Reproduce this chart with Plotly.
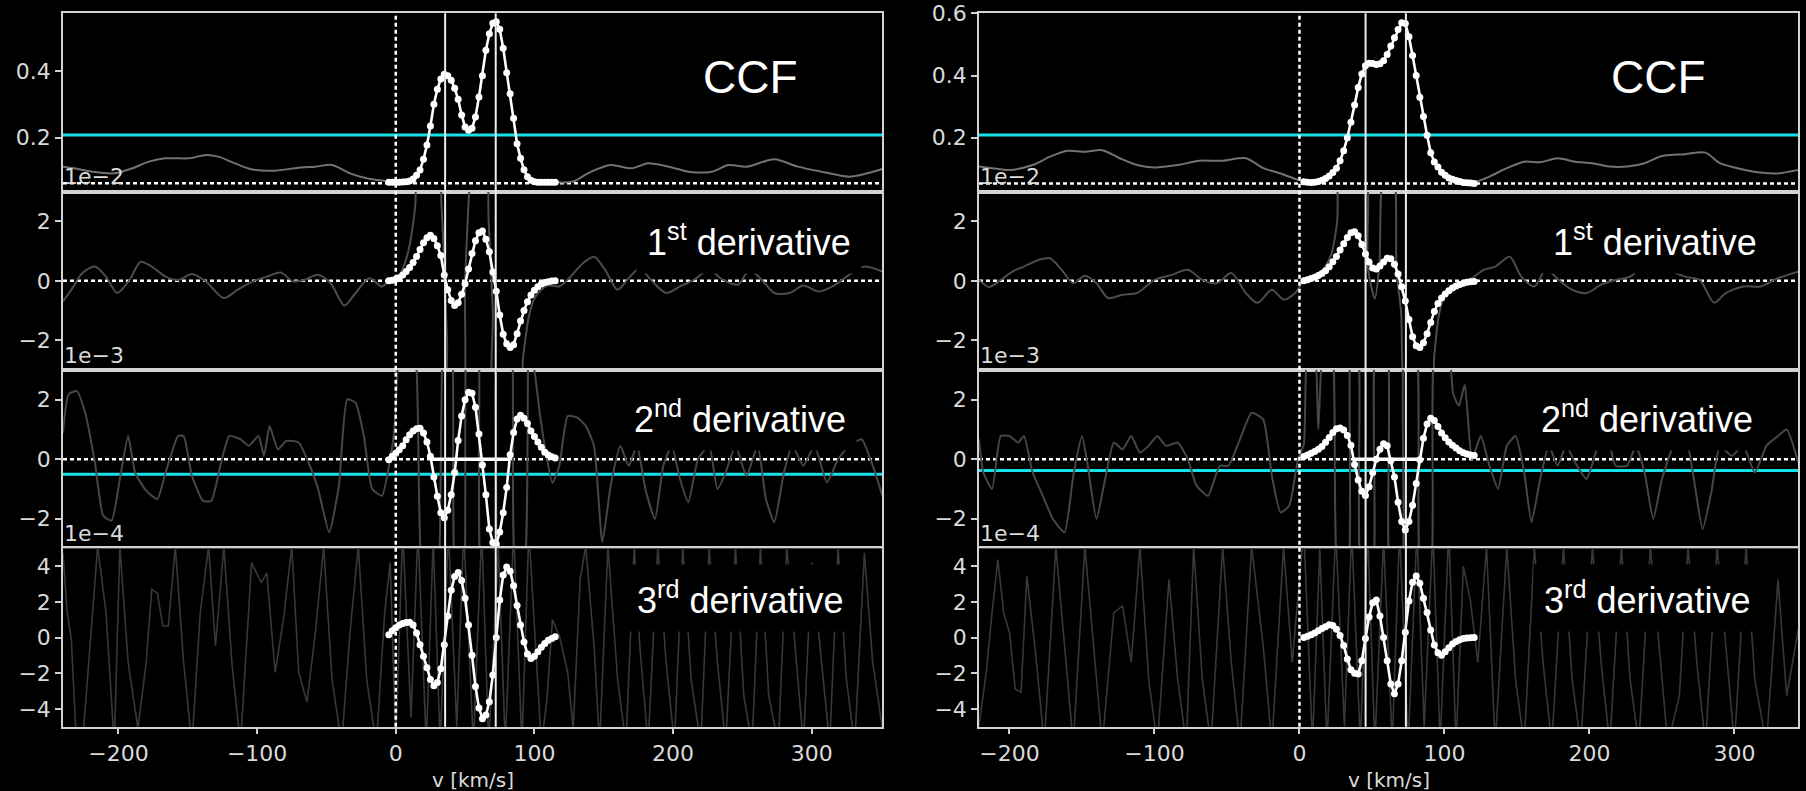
import numpy as np
import plotly.graph_objects as go

W, H = 1806, 791

# ---------------- sampling grids of the fitted velocity windows ----------------
v_win_a = np.arange(-5.0, 115.01, 2.5)
v_win_b = np.arange(3.0, 120.51, 2.5)

# ---------------- profile A (left column) ----------------
ccf_a = [0.066, 0.066, 0.066, 0.066, 0.067, 0.068, 0.070, 0.076, 0.087, 0.103,
         0.135, 0.178, 0.235, 0.300, 0.345, 0.376, 0.390, 0.386, 0.372, 0.348,
         0.315, 0.268, 0.232, 0.222, 0.228, 0.262, 0.322, 0.386, 0.462, 0.512,
         0.543, 0.548, 0.525, 0.468, 0.395, 0.332, 0.258, 0.182, 0.138, 0.104,
         0.083, 0.072, 0.068, 0.066, 0.066, 0.066, 0.066, 0.066, 0.066]
d1_a = [0.00, 0.02, 0.05, 0.10, 0.20, 0.31, 0.45, 0.62, 0.82, 1.05,
        1.28, 1.45, 1.53, 1.42, 1.18, 0.85, 0.20, -0.30, -0.66, -0.83,
        -0.74, -0.45, -0.10, 0.40, 0.92, 1.35, 1.62, 1.68, 1.40, 0.98,
        0.30, -0.35, -1.15, -1.80, -2.12, -2.24, -2.15, -1.78, -1.35, -1.00,
        -0.70, -0.48, -0.32, -0.20, -0.11, -0.06, -0.03, -0.01, 0.00]
d2_a = [-0.02, 0.10, 0.20, 0.32, 0.45, 0.65, 0.82, 0.95, 1.02, 1.04,
        0.88, 0.58, 0.10, -0.60, -1.25, -1.80, -1.97, -1.72, -1.20, -0.45,
        0.63, 1.45, 2.00, 2.25, 2.22, 1.75, 0.85, -0.20, -1.20, -2.35,
        -2.80, -2.85, -2.45, -1.80, -0.95, 0.15, 0.90, 1.35, 1.48, 1.38,
        1.20, 0.95, 0.76, 0.58, 0.40, 0.23, 0.14, 0.08, 0.04]
d3_a = [0.15, 0.38, 0.55, 0.70, 0.78, 0.84, 0.85, 0.70, 0.25, -0.40,
        -1.05, -1.70, -2.35, -2.70, -2.52, -1.75, -0.40, 1.20, 2.65, 3.42,
        3.65, 3.20, 2.20, 0.70, -1.00, -2.75, -3.95, -4.55, -4.35, -3.60,
        -2.10, 0.00, 2.10, 3.50, 3.95, 3.72, 2.90, 1.80, 0.70, -0.25,
        -0.92, -1.18, -1.05, -0.80, -0.54, -0.33, -0.15, -0.05, 0.05]

# ---------------- profile B (right column) ----------------
ccf_b = [0.058, 0.057, 0.056, 0.057, 0.059, 0.063, 0.069, 0.077, 0.088, 0.102,
         0.126, 0.158, 0.200, 0.250, 0.305, 0.362, 0.405, 0.432, 0.440, 0.439,
         0.436, 0.438, 0.448, 0.468, 0.495, 0.522, 0.548, 0.570, 0.568, 0.525,
         0.465, 0.400, 0.330, 0.268, 0.208, 0.152, 0.122, 0.106, 0.089, 0.079,
         0.070, 0.066, 0.062, 0.059, 0.056, 0.055, 0.054, 0.053]
d1_b = [0.00, 0.04, 0.08, 0.12, 0.18, 0.25, 0.34, 0.47, 0.64, 0.82,
        1.04, 1.25, 1.46, 1.62, 1.65, 1.52, 1.22, 0.90, 0.63, 0.43,
        0.40, 0.50, 0.63, 0.76, 0.74, 0.56, 0.23, -0.20, -0.68, -1.30,
        -1.88, -2.18, -2.24, -2.08, -1.78, -1.40, -1.03, -0.76, -0.58, -0.44,
        -0.33, -0.24, -0.17, -0.12, -0.08, -0.05, -0.03, -0.02]
d2_b = [0.09, 0.14, 0.20, 0.26, 0.33, 0.43, 0.57, 0.73, 0.90, 1.02,
        1.05, 0.98, 0.80, 0.47, -0.18, -0.70, -1.08, -1.22, -0.93, -0.45,
        0.00, 0.33, 0.52, 0.45, -0.05, -0.60, -1.45, -2.10, -2.38, -2.10,
        -1.55, -0.82, -0.02, 0.70, 1.18, 1.38, 1.30, 1.10, 0.88, 0.72,
        0.58, 0.47, 0.38, 0.28, 0.22, 0.17, 0.14, 0.12]
d3_b = [0.00, 0.07, 0.15, 0.26, 0.38, 0.50, 0.60, 0.72, 0.68, 0.46,
        0.12, -0.45, -1.20, -1.80, -2.00, -2.05, -1.30, -0.05, 1.15, 1.95,
        2.10, 1.20, 0.00, -1.30, -2.60, -3.15, -2.60, -1.30, 0.30, 2.05,
        3.10, 3.45, 3.05, 2.20, 1.40, 0.42, -0.42, -0.85, -1.00, -0.80,
        -0.57, -0.36, -0.22, -0.12, -0.06, -0.03, -0.01, 0.00]

# ---------------- full-range curves (faint background) ----------------
raw_ccf_a_v = [-240, -232, -219, -203, -190, -178, -166, -149, -137, -128, -116, -104, -87, -70,
               -58, -46, -33, -21, -4, None, 116, 124, 129, 141, 155, 170, 182, 197, 211, 228,
               240, 253, 273, 290, 307, 327, 340, 351]
raw_ccf_a = [0.113, 0.108, 0.098, 0.093, 0.108, 0.128, 0.138, 0.138, 0.148, 0.143, 0.123, 0.105,
             0.101, 0.110, 0.113, 0.118, 0.093, 0.078, 0.068, None, 0.066, 0.066, 0.070, 0.098,
             0.118, 0.108, 0.123, 0.113, 0.098, 0.098, 0.118, 0.113, 0.135, 0.113, 0.098, 0.083,
             0.093, 0.106]
raw_d1_a_v = [-240, -234, -226, -217, -209, -201, -192, -184, -176, -166, -157, -147, -137, -124,
              -114, -103, -93, -83, -74, -66, -56, -47, -37, -29, -19, -10, -4,
              0, 5, 10, 14, 17, 30, 33, 35, 37, 39, 47, 50, 53, 56, 64, 67, 70, 72, 88, 92, 96,
              100, 105, 110,
              118, 126, 135, 143, 151, 160, 168, 176, 184, 195, 205, 215, 226, 236, 247, 255, 265,
              273, 284, 294, 305, 315, 327, 338, 351]
raw_d1_a = [-0.69, -0.30, 0.26, 0.48, 0.14, -0.41, 0.03, 0.64, 0.48, 0.14, 0.03, 0.23, -0.02, -0.58,
            -0.30, -0.02, 0.14, 0.28, -0.02, 0.03, 0.20, -0.08, -0.83, -0.41, 0.09, -0.19, 0.03,
            0.05, 0.4, 1.2, 2.5, 4.0, 4.0, 2.5, 0.5, -2.0, -4.0, -4.0, 0.0, 3.0, 4.5, 4.5, 2.0,
            -1.0, -4.0, -4.0, -2.5, -1.2, -0.6, -0.3, -0.15,
            -0.19, 0.14, 0.59, 0.81, 0.37, -0.30, 0.09, 0.42, 0.03, -0.41, -0.19, 0.03, 0.37, 0.03,
            -0.13, 0.37, -0.02, -0.41, -0.41, -0.16, -0.36, -0.19, 0.20, 0.48, 0.31]
raw_d2_a_v = [-240, -236, -230, -224, -217, -211, -205, -199, -193, -188, -180, -172, -166, -157,
              -153, -147, -139, -133, -126, -120, -112, -106, -99, -95, -91, -85, -79, -70, -62,
              -56, -48, -41, -35, -29, -23, -17, -10, -4,
              -1, 2, 6, 10, 15, 19, 27, 31, 34, 38, 41, 44, 48, 51, 57, 60, 63, 70, 73, 80, 84,
              87, 92, 96, 100, 104, 108, 113,
              118, 124, 131, 137, 143, 149, 155, 162, 168, 174, 180, 187, 193, 199, 205, 211, 218,
              226, 232, 238, 245, 253, 261, 267, 273, 280, 286, 294, 302, 311, 319, 327, 336, 344,
              351]
raw_d2_a = [0.89, 2.18, 2.29, 1.56, -0.11, -1.90, -2.07, -0.67, 0.78, -0.45, -1.06, -1.34, -0.45,
            0.78, 0.78, -0.56, -1.40, -1.40, -0.11, 0.78, 0.67, 0.45, 0.78, 0.11, 1.12, 0.33, 0.61,
            0.56, -0.22, -1.00, -2.46, -0.89, 2.01, 1.90, 0.78, -1.00, -1.23, 0.00,
            1.0, 3.5, 4.5, 4.5, 3.0, -4.0, -5.0, -4.0, 4.0, 5.0, 4.0, -5.0, -5.0, 4.0, 5.0, 4.0,
            -5.0, -5.0, 4.0, 5.0, 4.0, -4.0, -4.0, 4.0, 3.0, 1.5, 0.3, -0.8,
            -0.22, 1.45, 1.40, 1.12, 0.45, -2.79, -0.89, 0.45, -0.22, 0.45, -1.00, -2.01, -0.22,
            0.45, -0.67, -1.45, 0.00, 0.45, -1.00, -0.45, 0.45, -0.56, 0.45, -1.34, -2.12, -0.45,
            0.45, -0.22, 0.45, -0.78, 0.00, 0.45, 0.67, -0.22, -1.23]
raw_d3_a_v = [-240, -237, -234, -231, -226, -219, -215, -209, -203, -199, -193, -186, -180, -176,
              -172, -168, -164, -159, -153, -147, -141, -135, -130, -124, -118, -112, -104, -97,
              -93, -87, -81, -75, -70, -64, -58, -52, -46, -39, -33, -27, -21, -14, -8, -4,
              0, 5, 11, 16, 22, 27, 32, 38, 44, 49, 56, 62, 67, 74, 79, 85, 91, 96, 102,
              105, 109, 113,
              118, 124, 128, 133, 137, 143, 147, 153, 160, 166, 172, 176, 182, 189, 195, 201, 207,
              213, 220, 226, 232, 238, 245, 251, 257, 263, 269, 276, 282, 288, 294, 300, 307, 313,
              319, 325, 331, 338, 344, 351]
raw_d3_a = [4.75, 1.4, -0.1, -4.9, -6, 1.4, 5.1, 1.4, -6, 5.1, -1.4, -5.1, -1.4, 2.7, 2.5, 0.65,
            0.65, 5.1, -1.4, -6, 1.4, 5.1, -0.47, 5.1, -1.6, -6, 4.2, 3.07, 3.63, -1.96, 1.02, 5.1,
            -1.96, -3.63, 0.28, 5.1, -2.33, -6, 0.28, 5.1, -2.33, -6, 1.4, 4.2,
            -6, 6, -4.5, 6, -6, 5.5, -6, 6, -5, 6, -6, 6, -6, 5, -6, 6, -6, 6, -2.5,
            -6, -3.5, 1.0,
            0.09, -1.96, -5.1, 3.26, 5.1, -0.47, -6, 5.1, -2.33, -6, 5.1, -0.47, -6, 5.1, -1.4, -6,
            5.1, -2.33, -6, 5.1, -1.4, -6, 5.1, -3.26, -6, 5.1, -3.26, -6, 5.1, -0.47, -6, 4.2,
            -1.4, -6, 5.1, -2.33, -6, 4.75, -1.4, -5.1]

raw_ccf_b_v = [-221, -212, -200, -184, -172, -160, -148, -136, -124, -112, -100, -84, -69, -53,
               -37, -25, -13, -1, None, 119, 131, 143, 155, 166, 178, 190, 202, 214, 226, 238,
               250, 266, 280, 290, 302, 318, 330, 344]
raw_ccf_b = [0.107, 0.102, 0.096, 0.112, 0.139, 0.158, 0.155, 0.160, 0.134, 0.112, 0.104, 0.112,
             0.126, 0.126, 0.134, 0.102, 0.085, 0.064, None, 0.053, 0.075, 0.102, 0.123, 0.121,
             0.134, 0.123, 0.118, 0.107, 0.107, 0.118, 0.141, 0.147, 0.152, 0.118, 0.102, 0.088,
             0.085, 0.096]
raw_d1_b_v = [-221, -214, -206, -198, -190, -180, -172, -164, -156, -148, -140, -132, -122, -112,
              -100, -88, -77, -67, -57, -47, -37, -29, -19, -11, -3,
              3, 10, 16, 22, 26, 29, 44, 47, 50, 52, 55, 59, 64, 67, 70, 75, 90, 93, 96, 100, 110,
              119, 127, 135, 145, 153, 162, 170, 180, 188, 198, 208, 218, 228, 238, 246, 256, 266,
              276, 286, 294, 306, 318, 330, 344]
raw_d1_b = [0.03, -0.21, 0.03, 0.31, 0.48, 0.70, 0.76, 0.37, -0.08, 0.17, -0.08, -0.58, -0.47,
            -0.41, 0.03, 0.20, 0.37, 0.03, -0.08, 0.26, -0.41, -0.74, -0.30, -0.63, -0.41,
            0.0, 0.15, 0.37, 0.9, 2.0, 4.0, 4.0, 0.5, -0.3, -0.6, 0.5, 4.0, 4.0, 0.3, -1.0, -4.0,
            -4.0, -2.5, -1.2, -0.5, -0.1,
            0.09, 0.37, 0.48, 0.81, 0.14, -0.19, 0.37, -0.02, -0.30, -0.41, -0.13, 0.03, 0.14,
            0.59, 0.92, 0.37, 0.14, 0.03, -0.74, -0.41, -0.19, -0.19, 0.09, 0.31]
raw_d2_b_v = [-221, -218, -212, -206, -200, -194, -190, -184, -178, -170, -162, -156, -150, -146,
              -140, -134, -128, -122, -116, -110, -104, -98, -92, -84, -77, -71, -63, -55, -49,
              -41, -33, -25, -19, -13, -7, -1,
              3, 6, 10, 13, 17, 22, 27, 33, 36, 40, 43, 50, 53, 60, 63, 70, 73, 80, 84, 90, 94,
              102, 106, 110, 114,
              119, 125, 131, 137, 143, 149, 155, 160, 166, 172, 178, 184, 190, 198, 206, 212, 218,
              226, 232, 238, 244, 250, 258, 266, 272, 278, 284, 290, 298, 306, 314, 322, 330, 336,
              344]
raw_d2_b = [0.67, -0.45, -1.00, 0.78, 0.78, 0.56, 0.78, -0.45, -1.12, -2.01, -2.46, -0.56, 0.78,
            -0.22, -2.01, -0.67, 0.56, 0.33, 0.78, 0.22, 0.45, 0.78, 0.45, 0.56, 0.00, -0.89,
            -1.23, -0.22, -0.22, 0.67, 1.56, 1.34, -0.56, -1.79, -1.56, 0.00,
            0.5, 4.0, 4.0, 1.0, 4.0, 4.0, -4.0, -4.0, 4.0, 4.0, -4.0, -4.0, 4.0, 4.0, -4.0, -4.0,
            4.0, 4.0, -4.0, -4.0, 4.0, 4.0, 2.2, 1.8, 2.5,
            0.00, 0.78, -0.22, -1.00, 0.45, 0.78, -0.45, -2.12, -0.67, 0.45, -0.22, 0.45, -0.11,
            -0.67, 0.45, 0.78, -0.22, -0.22, 0.45, -0.45, -2.01, -0.67, 0.45, 0.78, -0.67, -2.35,
            -1.12, 0.45, 0.11, 0.45, -0.45, 0.45, 0.78, 1.00, -0.11]
raw_d3_b_v = [-221, -216, -212, -208, -204, -200, -196, -192, -188, -182, -176, -168, -162, -156,
              -148, -142, -136, -128, -122, -116, -110, -104, -98, -90, -84, -78, -73, -67, -61,
              -53, -47, -41, -33, -25, -19, -11, -5,
              3, 9, 14, 19, 25, 31, 36, 42, 47, 52, 58, 64, 69, 75, 81, 86, 92, 97, 103,
              108, 113, 118,
              123, 129, 135, 143, 149, 155, 162, 168, 174, 182, 188, 194, 202, 208, 214, 222, 228,
              234, 242, 248, 254, 262, 268, 274, 280, 288, 294, 300, 308, 314, 322, 330, 336, 344]
raw_d3_b = [-4.94, -1.96, 1.4, 4.37, 1.4, 0.28, -2.89, -3.07, 3.44, -0.84, -6, 5.1, -0.47, -6,
            5.1, -0.47, -6, 1.4, 1.77, -1.4, 5.1, -2.33, -6, 3.26, -2.33, -6, 5.1, -2.33, -6, 5.1,
            -1.4, -6, 5.1, -0.47, -6, 5.1, -1.4,
            6, -6, 5, -6, 6, -5, 6, -6, 6, -6, 5.5, -6, 6, -6, 6, -5, 6, -6, 6, -6, 4, 2.0,
            -1.4, 5.1, -6, 5.1, -2.33, -6, 5.1, -1.4, -6, 5.1, -2.33, -6, 5.1, -1.4, -6, 5.1,
            -2.33, -6, 5.1, -0.47, -6, -3.26, 5.1, -1.4, -6, 5.1, -0.47, -6, 5.1, -2.33, -6, 3.26,
            -3.26, 0.46]

# ---------------- reference levels ----------------
ccf_base = [0.063, 0.053]           # dotted baseline in the CCF panel
ccf_thr = [0.208, 0.209]            # cyan threshold, CCF panel
d2_thr = [-0.51, -0.38]             # cyan threshold, 2nd derivative panel
comp_v = [[35.6, 72.1], [45.6, 73.4]]   # component velocities (solid verticals)
d2_span = [[25.5, 82.5], [37.5, 82.8]]  # outer zero crossings of the 2nd derivative

# ---------------- axes ----------------
x_ranges = [[-240.0, 350.7], [-221.0, 343.8]]
y_ranges = [
    [[0.038, 0.573], [-3.0, 3.0], [-3.0, 3.0], [-5.0, 5.0]],
    [[0.0264, 0.6005], [-3.0, 3.0], [-3.0, 3.0], [-5.0, 5.0]],
]
y_ticks = [
    [[0.2, 0.4], [-2, 0, 2], [-2, 0, 2], [-4, -2, 0, 2, 4]],
    [[0.2, 0.4, 0.6], [-2, 0, 2], [-2, 0, 2], [-4, -2, 0, 2, 4]],
]
x_ticks = [-200, -100, 0, 100, 200, 300]
panel_names = ["CCF", "1<sup>st</sup> derivative", "2<sup>nd</sup> derivative",
               "3<sup>rd</sup> derivative"]
exp_labels = ["1e\u22122", "1e\u22123", "1e\u22124"]

# ---------------- layout geometry (pixels) ----------------
col_px = [(63, 882), (979, 1798)]
row_top, row_h = 13.3, 178.35
label_centers = [
    [(750, 77), (749, 240), (740, 417), (740, 598)],
    [(1658, 77), (1655, 240), (1647, 417), (1647, 598)],
]

WHITE = "#ffffff"
AX = "#d2d2d2"
TXT = "#dadada"
CYAN = "#14e2e8"
GRAYS = ["#727272", "#4c4c4c", "#464646", "#383838"]
TICK_SIZE = 22


def px_x(p):
    return p / W


def px_y(p):
    return 1 - p / H


columns = [
    dict(v=v_win_a, curves=[ccf_a, d1_a, d2_a, d3_a],
         raw=[(raw_ccf_a_v, raw_ccf_a), (raw_d1_a_v, raw_d1_a),
              (raw_d2_a_v, raw_d2_a), (raw_d3_a_v, raw_d3_a)]),
    dict(v=v_win_b, curves=[ccf_b, d1_b, d2_b, d3_b],
         raw=[(raw_ccf_b_v, raw_ccf_b), (raw_d1_b_v, raw_d1_b),
              (raw_d2_b_v, raw_d2_b), (raw_d3_b_v, raw_d3_b)]),
]

fig = go.Figure()
layout = dict(
    width=W, height=H,
    margin=dict(l=0, r=0, t=0, b=0, autoexpand=False),
    paper_bgcolor="black", plot_bgcolor="black",
    showlegend=False,
    font=dict(family="DejaVu Sans", color=TXT, size=TICK_SIZE),
)
shapes, annotations = [], []

for c, col in enumerate(columns):
    x0p, x1p = col_px[c]
    for r in range(4):
        n = c * 4 + r + 1
        xa = "x" if n == 1 else f"x{n}"
        ya = "y" if n == 1 else f"y{n}"
        top = row_top + r * row_h
        bot = top + row_h
        bottom_row = r == 3

        layout["xaxis" if n == 1 else f"xaxis{n}"] = dict(
            domain=[px_x(x0p), px_x(x1p)], range=x_ranges[c], anchor=ya,
            showgrid=False, zeroline=False, showline=True, mirror=True,
            linecolor=AX, linewidth=1.5, automargin=False,
            ticks="outside" if bottom_row else "", ticklen=6, tickwidth=1.5, tickcolor=AX,
            tickvals=x_ticks, showticklabels=bottom_row,
            tickfont=dict(family="DejaVu Sans", size=TICK_SIZE, color=TXT),
        )
        layout["yaxis" if n == 1 else f"yaxis{n}"] = dict(
            domain=[px_y(bot), px_y(top)], range=y_ranges[c][r], anchor=xa,
            showgrid=False, zeroline=False, showline=True, mirror=True,
            linecolor=AX, linewidth=1.5, automargin=False,
            ticks="outside", ticklen=6, tickwidth=1.5, tickcolor=AX,
            tickvals=y_ticks[c][r],
            tickfont=dict(family="DejaVu Sans", size=TICK_SIZE, color=TXT),
        )

        # faint full-range curve
        rv, ry = col["raw"][r]
        fig.add_trace(go.Scatter(
            x=rv, y=ry, xaxis=xa, yaxis=ya, mode="lines",
            line=dict(color=GRAYS[r], width=2 if r < 3 else 1.6,
                      shape="spline" if r < 3 else "linear",
                      smoothing=0.8 if r < 2 else 0.5),
            connectgaps=False, hoverinfo="skip"))

        # span between outer zero crossings of the 2nd derivative
        if r == 2:
            fig.add_trace(go.Scatter(
                x=d2_span[c], y=[0, 0], xaxis=xa, yaxis=ya, mode="lines",
                line=dict(color=WHITE, width=3.5), hoverinfo="skip"))

        # windowed profile with samples
        fig.add_trace(go.Scatter(
            x=col["v"], y=col["curves"][r], xaxis=xa, yaxis=ya, mode="lines+markers",
            line=dict(color=WHITE, width=2.6),
            marker=dict(color=WHITE, size=7), hoverinfo="skip"))

        # dotted baseline / zero line
        base = ccf_base[c] if r == 0 else 0.0
        shapes.append(dict(
            type="line", xref=f"{xa} domain", yref=ya, x0=0, x1=1, y0=base, y1=base,
            line=dict(color=WHITE, width=2.5, dash="4px,3px"), layer="below"))

        # cyan thresholds
        if r in (0, 2):
            lvl = ccf_thr[c] if r == 0 else d2_thr[c]
            shapes.append(dict(
                type="line", xref=f"{xa} domain", yref=ya, x0=0, x1=1, y0=lvl, y1=lvl,
                line=dict(color=CYAN, width=3), layer="below"))

        # panel label
        lx, ly = label_centers[c][r]
        annotations.append(dict(
            text=panel_names[r], xref="paper", yref="paper",
            x=px_x(lx), y=px_y(ly), xanchor="center", yanchor="middle", showarrow=False,
            font=dict(family="Liberation Sans", size=46 if r == 0 else 36, color=WHITE),
            bgcolor="black", borderpad=10))

        # exponent of the panel below, sitting on the panel border
        if r > 0:
            annotations.append(dict(
                text=exp_labels[r - 1], xref="paper", yref="paper",
                x=px_x(x0p - 1), y=px_y(top - 0.5), xanchor="left", yanchor="bottom",
                showarrow=False,
                font=dict(family="DejaVu Sans", size=TICK_SIZE, color=TXT)))

    # vertical markers spanning the whole column
    xa_col = "x" if c == 0 else "x5"
    ytop, ybot = px_y(row_top), px_y(row_top + 4 * row_h)
    shapes.append(dict(type="line", xref=xa_col, yref="paper", x0=0, x1=0, y0=ybot, y1=ytop,
                       line=dict(color=WHITE, width=2.5, dash="4px,3px"), layer="above"))
    for vv in comp_v[c]:
        shapes.append(dict(type="line", xref=xa_col, yref="paper", x0=vv, x1=vv,
                           y0=ybot, y1=ytop, line=dict(color="#ececec", width=2),
                           layer="above"))

    # x axis title
    annotations.append(dict(
        text="v [km/s]", xref="paper", yref="paper",
        x=px_x((x0p + x1p) / 2), y=px_y(780), xanchor="center", yanchor="middle",
        showarrow=False, font=dict(family="DejaVu Sans", size=20, color=TXT)))

layout["shapes"] = shapes
layout["annotations"] = annotations
fig.update_layout(**layout)
fig.write_html("out.html")
